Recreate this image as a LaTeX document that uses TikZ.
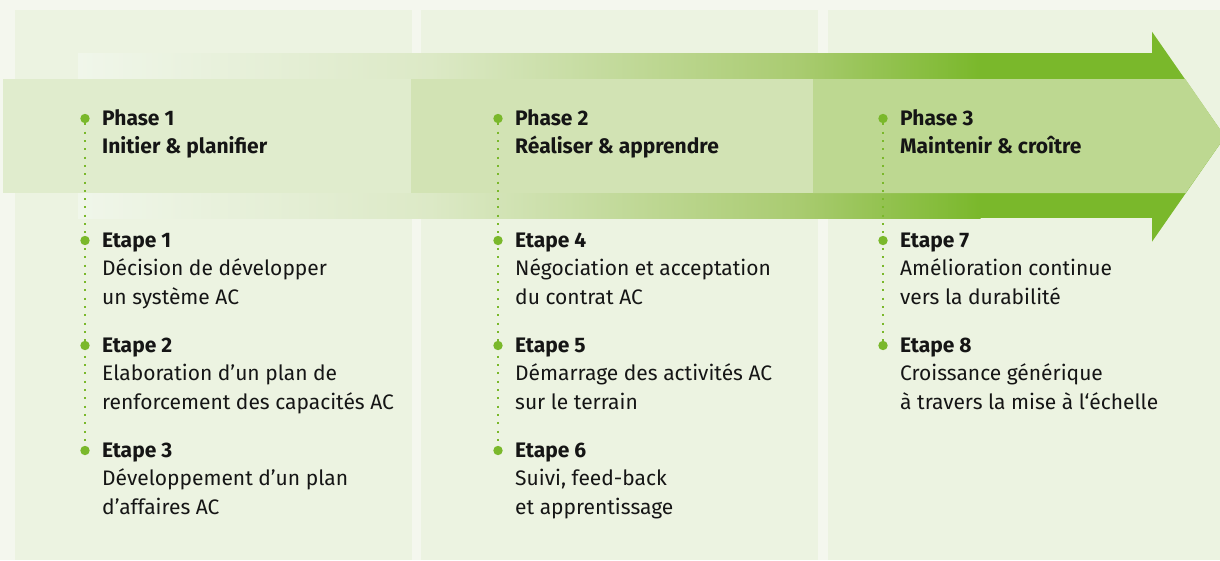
\documentclass[tikz,border=0pt]{standalone}
\usepackage{fontspec}
\setmainfont{Fira Sans}
\definecolor{bgc}{HTML}{F4F7EE}
\definecolor{panelc}{HTML}{ECF3E1}
\definecolor{midA}{HTML}{E0ECCD}
\definecolor{midB}{HTML}{D2E3B4}
\definecolor{midC}{HTML}{BDD891}
\definecolor{gA}{HTML}{F0F6EA}
\definecolor{gB}{HTML}{DCE9C6}
\definecolor{gC}{HTML}{A9CB70}
\definecolor{gD}{HTML}{7AB82B}
\definecolor{txtc}{HTML}{151515}
\tikzset{
  dotnode/.style={circle, fill=gD, inner sep=0pt, minimum size=9.4pt},
  dotline/.style={draw=gD, line width=2pt, dash pattern=on 2pt off 6.3pt},
  txt/.style={anchor=base west, inner sep=0pt, text=txtc},
}
\newcommand\textblock[4]{\node[txt] (#1) at (#2,#3) {\parbox[t]{330pt}{\fontsize{21}{28.5}\selectfont #4}};}
\begin{document}
\begin{tikzpicture}[x=1pt,y=-1pt]
\useasboundingbox (0,0) rectangle (1220,560);
\clip (0,0) rectangle (1220,560);
\fill[bgc] (0,0) rectangle (1220,560);
% panels
\fill[panelc] (15,10) rectangle (412,560);
\fill[panelc] (421,10) rectangle (818,560);
\fill[panelc] (828,10) rectangle (1220,560);
% arrow outer bands
\foreach \ya/\yb in {53/79,193/218}{
  \shade[left color=gA, right color=gB] (78,\ya) rectangle (430.5,\yb);
  \shade[left color=gB, right color=gC] (430,\ya) rectangle (800.5,\yb);
  \shade[left color=gC, right color=gD] (800,\ya) rectangle (980.5,\yb);
  \fill[gD] (980,\ya) rectangle (1153,\yb);
}
\fill[gD] (1152,31.7) -- (1225,136.7) -- (1152,241.7) -- cycle;
% middle band
\fill[midA] (3,79) rectangle (411,193);
\fill[midB] (411,79) rectangle (813,193);
\fill[midC] (813,79) -- (1185.3,79) -- (1225,136.7) -- (1185.6,193) -- (813,193) -- cycle;
% dots
\node[dotnode] (p1) at (85,118.5) {};
\node[dotnode] (e1) at (85,240.5) {};
\node[dotnode] (e2) at (85,345.5) {};
\node[dotnode] (e3) at (85,450.5) {};
\node[dotnode] (p2) at (498,118.5) {};
\node[dotnode] (e4) at (498,240.5) {};
\node[dotnode] (e5) at (498,345.5) {};
\node[dotnode] (e6) at (498,450.5) {};
\node[dotnode] (p3) at (883,118.5) {};
\node[dotnode] (e7) at (883,240.5) {};
\node[dotnode] (e8) at (883,345.5) {};
\draw[dotline] (p1.south) -- (e3.north);
\draw[dotline] (p2.south) -- (e6.north);
\draw[dotline] (p3.south) -- (e8.north);
% texts
\textblock{tp1}{102}{125}{\bfseries Phase 1\\Initier \& planifier}
\textblock{te1}{102}{247}{\textbf{Etape 1}\\Décision de développer\\un système AC}
\textblock{te2}{102}{352}{\textbf{Etape 2}\\Elaboration d’un plan de\\renforcement des capacités AC}
\textblock{te3}{102}{457}{\textbf{Etape 3}\\Développement d’un plan\\d’affaires AC}
\textblock{tp2}{515}{125}{\bfseries Phase 2\\Réaliser \& apprendre}
\textblock{te4}{515}{247}{\textbf{Etape 4}\\Négociation et acceptation\\du contrat AC}
\textblock{te5}{515}{352}{\textbf{Etape 5}\\Démarrage des activités AC\\sur le terrain}
\textblock{te6}{515}{457}{\textbf{Etape 6}\\Suivi, feed-back\\et apprentissage}
\textblock{tp3}{900}{125}{\bfseries Phase 3\\Maintenir \& croître}
\textblock{te7}{900}{247}{\textbf{Etape 7}\\Amélioration continue\\vers la durabilité}
\textblock{te8}{900}{352}{\textbf{Etape 8}\\Croissance générique\\à travers la mise à l‘échelle}
\end{tikzpicture}
\end{document}
